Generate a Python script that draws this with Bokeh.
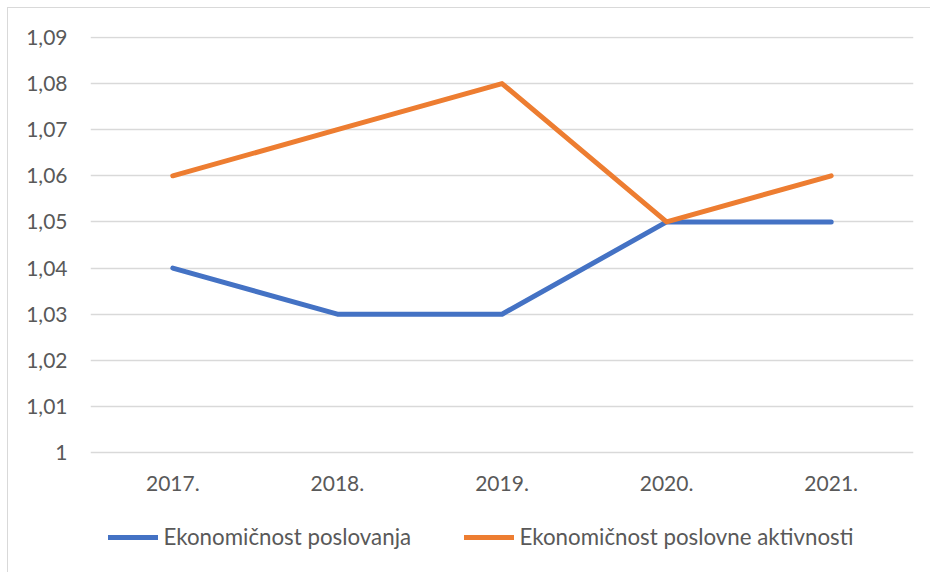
from bokeh.plotting import figure
from bokeh.models import FactorRange, Range1d, FixedTicker, Legend, LegendItem, LabelSet, ColumnDataSource
from bokeh.core.properties import value
from bokeh.embed import file_html
from bokeh.resources import INLINE

years = ["2017.", "2018.", "2019.", "2020.", "2021."]
poslovanja = [1.04, 1.03, 1.03, 1.05, 1.05]
aktivnosti = [1.06, 1.07, 1.08, 1.05, 1.06]
y_ticks = [1.00, 1.01, 1.02, 1.03, 1.04, 1.05, 1.06, 1.07, 1.08, 1.09]
y_labels = ["1", "1,01", "1,02", "1,03", "1,04", "1,05", "1,06", "1,07", "1,08", "1,09"]
name_blue = "Ekonomičnost poslovanja"
name_orange = "Ekonomičnost poslovne aktivnosti"

FONT = "Lato"
TXT = "#595959"
GRID = "#d9d9d9"

# frame spans down to the canvas bottom so that the legend (below the category
# labels) lies inside it; 0.01 of value = ~46.1 px
PX_PER_UNIT = 4613.0
FRAME_H = 536
y_top = y_ticks[-1] + 0.0002
y_bottom = y_top - FRAME_H / PX_PER_UNIT

p = figure(
    x_range=FactorRange(*years), y_range=Range1d(y_bottom, y_top),
    width=930, height=572, output_backend="svg", toolbar_location=None,
    min_border_left=90, min_border_right=17, min_border_top=36, min_border_bottom=0,
    styles={
        "background-color": "white",
        "background-image": "linear-gradient(#d9d9d9,#d9d9d9), linear-gradient(#d9d9d9,#d9d9d9)",
        "background-size": "1.3px 100%, 100% 1.3px",
        "background-position": "7px 7px, 7px 7px",
        "background-repeat": "no-repeat",
    },
)
p.outline_line_color = None
p.background_fill_color = "white"
p.background_fill_alpha = 0
p.border_fill_alpha = 0

p.xaxis.visible = False
p.yaxis.ticker = FixedTicker(ticks=y_ticks)
p.yaxis.major_label_overrides = {t: l for t, l in zip(y_ticks, y_labels)}
ax = p.yaxis[0]
ax.axis_line_color = None
ax.major_tick_line_color = None
ax.minor_tick_line_color = None
ax.major_tick_out = 0
ax.major_tick_in = 0
ax.minor_tick_out = 0
ax.major_label_text_font = FONT
ax.major_label_text_font_size = "21px"
ax.major_label_text_color = TXT
ax.major_label_standoff = 23

p.xgrid.grid_line_color = None
p.ygrid.grid_line_color = GRID
p.ygrid.grid_line_width = 1.4

# category labels under the 1.00 baseline
cat_src = ColumnDataSource(dict(x=years, y=[y_ticks[0]] * len(years), t=years))
p.add_layout(LabelSet(x="x", y="y", text="t", source=cat_src, y_offset=-31,
                      text_align="center", text_baseline="middle",
                      text_font=value(FONT), text_font_size=value("21px"), text_color=TXT))

r1 = p.line(years, poslovanja, line_color="#4472C4", line_width=5, line_cap="round", line_join="round")
r2 = p.line(years, aktivnosti, line_color="#ED7D31", line_width=5, line_cap="round", line_join="round")

def mk_legend(r, label, x):
    return Legend(items=[LegendItem(label=label, renderers=[r])], location=(x, 22),
                  orientation="horizontal", border_line_color=None, background_fill_alpha=0,
                  padding=0, margin=0, glyph_width=50, glyph_height=24, label_standoff=6,
                  label_text_font=FONT, label_text_font_size="22.3px", label_text_color=TXT,
                  label_height=24)

p.add_layout(mk_legend(r1, name_blue, 17.5), "center")
p.add_layout(mk_legend(r2, name_orange, 373.5), "center")

open("out.html", "w").write(file_html(p, INLINE))
